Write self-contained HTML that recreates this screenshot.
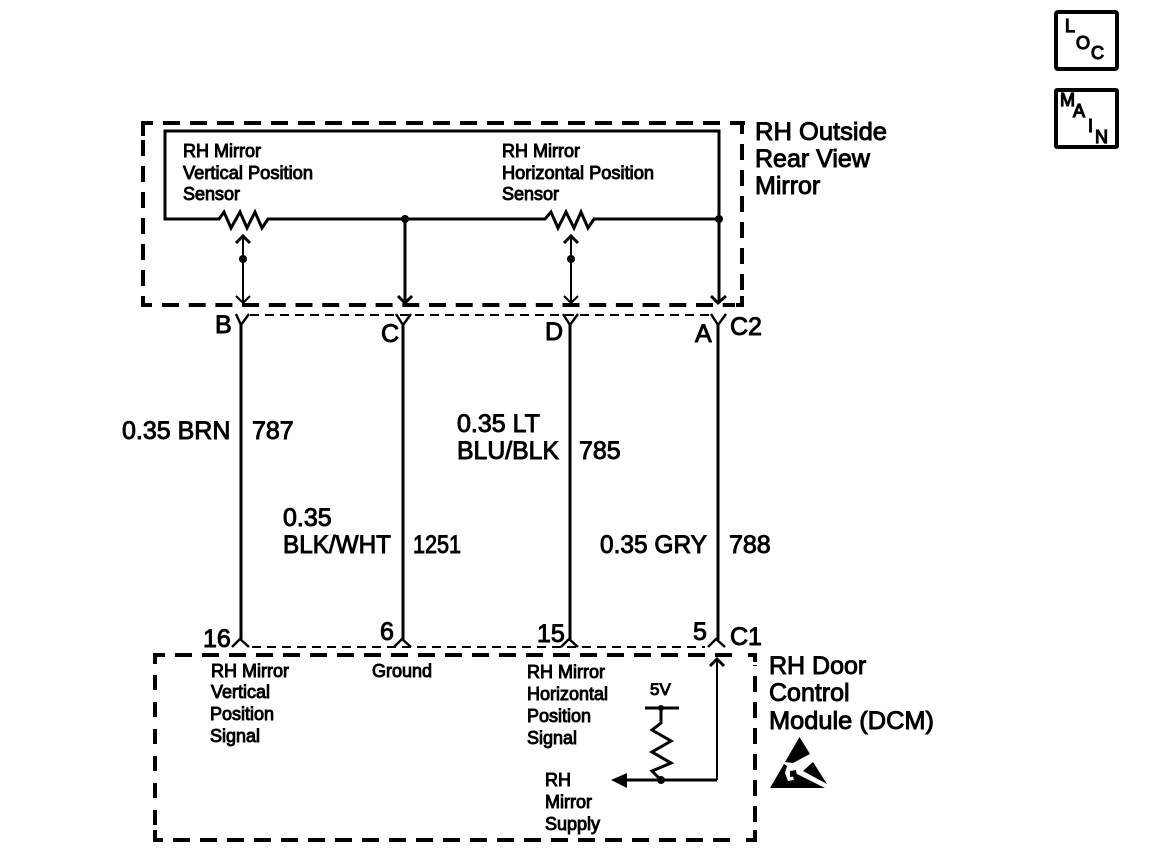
<!DOCTYPE html>
<html><head><meta charset="utf-8"><style>
html,body{margin:0;padding:0;background:#fff}
svg{display:block}
text{font-family:"Liberation Sans",sans-serif;fill:#000;stroke:#000}
.l{font-size:25px;stroke-width:.95px}
.s{font-size:18px;stroke-width:.95px}
.b{font-size:18px;stroke-width:1.2px}
.n{fill:none;stroke:#000;stroke-linejoin:miter}
</style></head><body>
<svg width="1152" height="866" viewBox="0 0 1152 866" xmlns="http://www.w3.org/2000/svg">
<!-- top dashed box -->
<g class="n" stroke-width="4">
<path d="M163 123H745" stroke-dasharray="17 10"/>
<path d="M153 123H143V136"/>
<path d="M143 140V300" stroke-dasharray="16 10"/>
<path d="M143 296V305H152"/>
<path d="M162 305H735" stroke-dasharray="17 9.7"/>
<path d="M736 305H742V296"/>
<path d="M742 290V140" stroke-dasharray="16 10"/>
<path d="M737 123H742V134"/>
</g>
<!-- inner sensor -->
<g class="n" stroke-width="3">
<path d="M165 131V219H219L224 212L231 228L240 212L247 228L255 212L262 228L268 219H545L551 212L558 228L566 212L574 228L581 212L588 228L594 219H719V131H165Z"/>
<path d="M405 219V302"/>
<path d="M719 131V302"/>
<path d="M398 296L405 303L412 296"/>
<path d="M711 296L718 303L726 296"/>
</g>
<g class="n" stroke-width="2">
<path d="M243 238V303M236 296L243 303L250 296"/>
<path d="M571 238V303M564 296L571 303L578 296"/>
</g>
<g class="n" stroke-width="3">
<path d="M236 243L243 236L250 243"/>
<path d="M564 243L571 236L578 243"/>
</g>
<circle cx="243" cy="259" r="4"/><circle cx="571" cy="259" r="4"/>
<circle cx="405" cy="219" r="4"/><circle cx="719" cy="219" r="4"/>
<!-- connector C2 line -->
<path class="n" stroke-width="2" d="M250 315H710" stroke-dasharray="9 6"/>
<!-- wires -->
<g class="n" stroke-width="3">
<path d="M241 325V640"/><path d="M403 325V640"/><path d="M570 325V640"/><path d="M718 325V640"/>
</g>
<g class="n" stroke-width="2.4">
<path d="M236 314L241 325L249 314"/><path d="M396 314L403 325L411 314"/><path d="M563 314L570 325L578 314"/><path d="M711 314L718 325L726 314"/>
<path d="M232 647L240 639L249 647"/><path d="M394 647L402 639L411 647"/><path d="M561 647L569 639L578 647"/><path d="M708 647L716 639L725 647"/>
</g>
<path class="n" stroke-width="2" d="M252 647H705" stroke-dasharray="9 6"/>
<!-- bottom dashed box -->
<g class="n" stroke-width="4">
<path d="M175 655H735" stroke-dasharray="17 10"/>
<path d="M165 655H155V664"/>
<path d="M155 675V825" stroke-dasharray="15 12"/>
<path d="M155 830V840H163"/>
<path d="M173 840H740" stroke-dasharray="17 10"/>
<path d="M746 840H755V830"/>
<path d="M755 822V665" stroke-dasharray="16 10"/>
<path d="M748 655H755V662"/>
</g>
<!-- DCM internals -->
<g class="n" stroke-width="3">
<path d="M645 708H679"/>
<path d="M661 708V723L652 730L671 741L652 752L671 763L652 771L661 780"/>
<path d="M625 780H717"/>
<path d="M710 666L717 659L724 666"/>
</g>
<path class="n" stroke-width="2" d="M717 660V780"/>
<path d="M611 780L627 773V788Z"/>
<circle cx="661" cy="708" r="3"/><circle cx="661" cy="780" r="4"/>
<!-- ESD -->
<path d="M799.5 737L810 754L793 763L785 762Z"/>
<path d="M784 764L770 788H825L791 771L794 780L788 781L785 773L787 766Z"/>
<path d="M813 762L827 784L803 771Z"/>
<path d="M790 771L796 770L797 776L790 777Z"/>
<!-- LOC/MAIN -->
<g class="n" stroke-width="4">
<rect x="1056" y="12" width="61" height="57" rx="2"/>
<rect x="1056" y="90" width="61" height="57" rx="1"/>
</g>
<text class="b" x="1065" y="32">L</text>
<text class="b" x="1076" y="49">O</text>
<text class="b" x="1091" y="59">C</text>
<text class="b" x="1060" y="106">M</text>
<text class="b" x="1073" y="117">A</text>
<text class="b" x="1088" y="132">I</text>
<text class="b" x="1095" y="143">N</text>
<!-- big labels -->
<text class="l" x="755" y="140" textLength="132" lengthAdjust="spacingAndGlyphs">RH Outside</text>
<text class="l" x="755" y="167">Rear View</text>
<text class="l" x="755" y="194">Mirror</text>
<text class="l" x="769" y="674">RH Door</text>
<text class="l" x="769" y="701">Control</text>
<text class="l" x="769" y="729" textLength="165" lengthAdjust="spacingAndGlyphs">Module (DCM)</text>
<text class="l" x="215" y="333">B</text>
<text class="l" x="381" y="342">C</text>
<text class="l" x="545" y="340">D</text>
<text class="l" x="695" y="342">A</text>
<text class="l" x="730" y="335">C2</text>
<text class="l" x="203" y="647">16</text>
<text class="l" x="380" y="640">6</text>
<text class="l" x="537" y="642">15</text>
<text class="l" x="693" y="640">5</text>
<text class="l" x="730" y="645">C1</text>
<text class="l" x="122" y="439">0.35 BRN</text>
<text class="l" x="252" y="439">787</text>
<text class="l" x="283" y="526">0.35</text>
<text class="l" x="283" y="553" textLength="108" lengthAdjust="spacingAndGlyphs">BLK/WHT</text>
<text class="l" x="413" y="553" textLength="48" lengthAdjust="spacingAndGlyphs">1251</text>
<text class="l" x="457" y="432">0.35 LT</text>
<text class="l" x="457" y="459" textLength="102" lengthAdjust="spacingAndGlyphs">BLU/BLK</text>
<text class="l" x="579" y="459">785</text>
<text class="l" x="600" y="553" textLength="107" lengthAdjust="spacingAndGlyphs">0.35 GRY</text>
<text class="l" x="729" y="553">788</text>
<!-- small labels -->
<text class="s" x="183" y="157">RH Mirror</text>
<text class="s" x="183" y="179" textLength="130" lengthAdjust="spacingAndGlyphs">Vertical Position</text>
<text class="s" x="183" y="200">Sensor</text>
<text class="s" x="502" y="157">RH Mirror</text>
<text class="s" x="502" y="179" textLength="152" lengthAdjust="spacingAndGlyphs">Horizontal Position</text>
<text class="s" x="502" y="200">Sensor</text>
<text class="s" x="211" y="677">RH Mirror</text>
<text class="s" x="211" y="698">Vertical</text>
<text class="s" x="210" y="720">Position</text>
<text class="s" x="210" y="742">Signal</text>
<text class="s" x="372" y="677">Ground</text>
<text class="s" x="527" y="678">RH Mirror</text>
<text class="s" x="527" y="700">Horizontal</text>
<text class="s" x="527" y="722">Position</text>
<text class="s" x="527" y="744">Signal</text>
<text class="s" x="650" y="695" style="font-size:17px">5V</text>
<text class="s" x="545" y="786">RH</text>
<text class="s" x="545" y="808">Mirror</text>
<text class="s" x="545" y="830">Supply</text>
</svg>
</body></html>
